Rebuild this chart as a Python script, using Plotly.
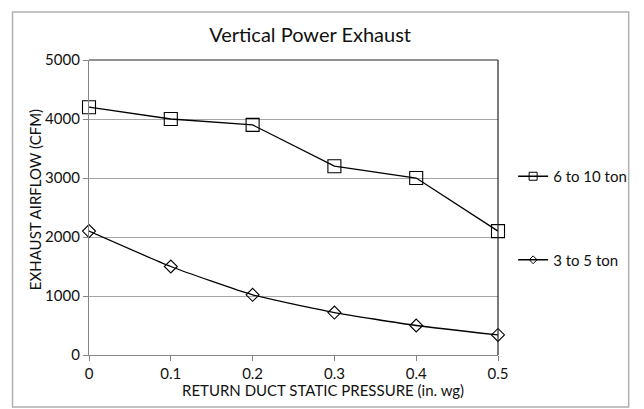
import plotly.graph_objects as go

pressure = [0, 0.1, 0.2, 0.3, 0.4, 0.5]
big_ton = [4200, 4000, 3900, 3200, 3000, 2100]
small_ton = [2100, 1500, 1020, 720, 500, 340]
series_names = ["6 to 10 ton", "3 to 5 ton"]
x_ticks = [0, 0.1, 0.2, 0.3, 0.4, 0.5]
x_tick_labels = ["0", "0.1", "0.2", "0.3", "0.4", "0.5"]
y_ticks = [0, 1000, 2000, 3000, 4000, 5000]
title_text = "Vertical Power Exhaust"
x_title = "RETURN DUCT STATIC PRESSURE (in. wg)"
y_title = "EXHAUST AIRFLOW (CFM)"

FONT = "Lato, 'Open Sans', sans-serif"
TXT = "#111"

fig = go.Figure()
fig.add_trace(go.Scatter(
    x=pressure, y=big_ton, name=series_names[0], mode="lines+markers",
    line=dict(color="black", width=1.3),
    marker=dict(symbol="square-open", size=13, color="black", line=dict(width=1.1)),
    cliponaxis=False, showlegend=False))
fig.add_trace(go.Scatter(
    x=pressure, y=small_ton, name=series_names[1], mode="lines+markers",
    line=dict(color="black", width=1.3, shape="spline", smoothing=0.5),
    marker=dict(symbol="diamond-open", size=10, color="black", line=dict(width=1.1)),
    cliponaxis=False, showlegend=False))
fig.add_trace(go.Scatter(
    x=[None], y=[None], name=series_names[0], mode="lines+markers",
    line=dict(color="black", width=1.3),
    marker=dict(symbol="square-open", size=8, color="black", line=dict(width=1)),
    legendgroup="a"))
fig.add_trace(go.Scatter(
    x=[None], y=[None], name=series_names[1], mode="lines+markers",
    line=dict(color="black", width=1.3),
    marker=dict(symbol="diamond-open", size=6, color="black", line=dict(width=1)),
    legendgroup="b"))

fig.update_layout(
    width=636, height=401,
    margin=dict(l=81, r=136, t=52, b=54),
    paper_bgcolor="white", plot_bgcolor="white",
    font=dict(family=FONT, color=TXT, size=15),
    title=dict(text=title_text, xref="container", x=0.475, xanchor="center",
               y=0.933, yanchor="middle", font=dict(size=20, color=TXT, family=FONT)),
    legend=dict(x=1.037, y=0.661, xanchor="left", yanchor="top", tracegroupgap=61,
                font=dict(size=15, color=TXT), bgcolor="rgba(0,0,0,0)"),
    showlegend=True,
)
fig.update_xaxes(range=[0, 0.5], tickvals=x_ticks, ticktext=x_tick_labels,
                 showgrid=False, showline=True, linecolor="#868686", linewidth=1.3,
                 ticks="outside", ticklen=5, tickcolor="#868686", zeroline=False,
                 tickfont=dict(size=15, color=TXT))
fig.update_yaxes(range=[0, 5000], tickvals=y_ticks, showgrid=True, gridcolor="#a6a6a6", gridwidth=1,
                 showline=True, linecolor="#868686", linewidth=1.3,
                 ticks="outside", ticklen=5, tickcolor="#868686", zeroline=False,
                 tickfont=dict(size=15, color=TXT))
fig.add_shape(type="line", xref="paper", yref="paper", x0=0, x1=1, y0=1, y1=1,
              line=dict(color="#222", width=1.2))
fig.add_shape(type="line", xref="paper", yref="paper", x0=1, x1=1, y0=0, y1=1,
              line=dict(color="#222", width=1.2))
fig.add_shape(type="rect", xref="paper", yref="paper",
              x0=-0.187, x1=1.3195, y0=-0.176, y1=1.163,
              line=dict(color="#b0b0b0", width=1.5), fillcolor="rgba(0,0,0,0)", layer="below")
fig.add_annotation(text=x_title, xref="paper", yref="paper", x=0.571, y=-0.119,
                   showarrow=False, xanchor="center", yanchor="middle",
                   font=dict(size=15, color=TXT, family=FONT))
fig.add_annotation(text=y_title, xref="paper", yref="paper", x=-0.132, y=0.525,
                   textangle=-90, showarrow=False, xanchor="center", yanchor="middle",
                   font=dict(size=15, color=TXT, family=FONT))

fig.write_html("out.html")
